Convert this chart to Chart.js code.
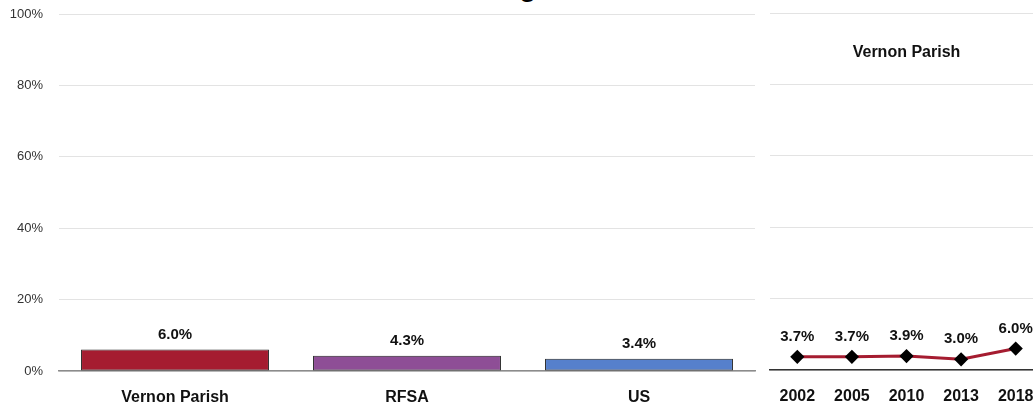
<!DOCTYPE html>
<html lang="en">
<head>
<meta charset="UTF-8">
<title>Vernon Parish</title>
<style>
  * { margin: 0; padding: 0; box-sizing: border-box; }
  body { width: 1033px; height: 404px; overflow: hidden; background: #fff; position: relative; font-family: "Liberation Sans", Arial, sans-serif; }
  .title { position: absolute; top: -27px; left: 401px; font: bold 28px/28px "Liberation Sans", Arial, sans-serif; color: #000; white-space: nowrap; }
  #left { position: absolute; left: 0; top: 0; }
  #right { position: absolute; left: 762px; top: 0; }
</style>
</head>
<body>
<div class="title">Percentage</div>
<canvas id="left" width="762" height="404"></canvas>
<canvas id="right" width="290" height="404"></canvas>
<script src="https://cdn.jsdelivr.net/npm/chart.js@4.4.0/dist/chart.umd.min.js"></script>
<script>
// ── Data ─────────────────────────────────────────────────────────────────────
const areas = ["Vernon Parish", "RFSA", "US"];
const areaValues = [6.0, 4.3, 3.4];
const areaColors = ["#a51c30", "#8e4e96", "#5680cc"];

const years = ["2002", "2005", "2010", "2013", "2018"];
const trendValues = [3.7, 3.7, 3.9, 3.0, 6.0];
const trendTitle = "Vernon Parish";

const yTicks = [0, 20, 40, 60, 80, 100];

const labelFont = "bold 15px 'Liberation Sans', Arial, sans-serif";
const axisFont = { family: "'Liberation Sans', Arial, sans-serif", size: 16, weight: "bold" };

// ── Value labels above bars / points ─────────────────────────────────────────
const valueLabels = (offset) => ({
  id: "valueLabels",
  afterDatasetsDraw(chart) {
    const { ctx } = chart;
    const ds = chart.data.datasets[0];
    ctx.save();
    ctx.font = labelFont;
    ctx.fillStyle = "#111";
    ctx.textAlign = "center";
    ctx.textBaseline = "middle";
    chart.getDatasetMeta(0).data.forEach((el, i) => {
      ctx.fillText(ds.data[i].toFixed(1) + "%", el.x, el.y - offset);
    });
    ctx.restore();
  },
});

// ── Left: bar chart ──────────────────────────────────────────────────────────
new Chart(document.getElementById("left"), {
  type: "bar",
  data: {
    labels: areas,
    datasets: [{
      data: areaValues,
      backgroundColor: areaColors,
      borderColor: "#222",
      borderWidth: 1,
      borderSkipped: false,
      categoryPercentage: 1,
      barPercentage: 0.81,
    }],
  },
  options: {
    responsive: false,
    animation: false,
    layout: { padding: { top: 14, right: 7, left: 0, bottom: 0 } },
    plugins: { legend: { display: false }, tooltip: { enabled: false } },
    scales: {
      y: {
        min: 0, max: 100,
        afterBuildTicks: (s) => { s.ticks = yTicks.map((v) => ({ value: v })); },
        afterFit: (s) => { s.width = 59; s.paddingTop = 0; s.paddingBottom = 0; },
        ticks: { callback: (v) => v + "%", color: "#333", padding: 16, font: { family: "'Liberation Sans', Arial, sans-serif", size: 13 } },
        grid: { color: "#e3e3e3", drawTicks: false },
        border: { display: false },
      },
      x: {
        afterFit: (s) => { s.height = 33; },
        ticks: { color: "#111", padding: 9, font: axisFont },
        grid: { display: false },
        border: { color: "#8c8c8c", width: 1.5 },
      },
    },
  },
  plugins: [valueLabels(15)],
});

// ── Right: trend line ────────────────────────────────────────────────────────
new Chart(document.getElementById("right"), {
  type: "line",
  data: {
    labels: years,
    datasets: [{
      data: trendValues,
      borderColor: "#a51c30",
      borderWidth: 3,
      tension: 0,
      pointStyle: "rectRot",
      pointRadius: 5,
      pointBackgroundColor: "#000",
      pointBorderColor: "#000",
    }],
  },
  options: {
    responsive: false,
    animation: false,
    layout: { padding: { top: 13, right: 9, left: 8, bottom: 0 } },
    plugins: { legend: { display: false }, tooltip: { enabled: false } },
    scales: {
      y: {
        min: 0, max: 100,
        afterBuildTicks: (s) => { s.ticks = yTicks.map((v) => ({ value: v })); },
        afterFit: (s) => { s.width = 0; },
        ticks: { display: false },
        grid: { color: "#e3e3e3", drawTicks: false },
        border: { display: false },
      },
      x: {
        offset: true,
        afterFit: (s) => { s.height = 34; },
        ticks: { color: "#111", padding: 9, font: axisFont },
        grid: { display: false },
        border: { color: "#333", width: 1.5 },
      },
    },
  },
  plugins: [
    valueLabels(20),
    {
      id: "innerTitle",
      afterDraw(chart) {
        const { ctx, chartArea } = chart;
        ctx.save();
        ctx.font = "bold 16px 'Liberation Sans', Arial, sans-serif";
        ctx.fillStyle = "#111";
        ctx.textAlign = "center";
        ctx.textBaseline = "middle";
        ctx.fillText(trendTitle, (chartArea.left + chartArea.right) / 2, 53);
        ctx.restore();
      },
    },
  ],
});
</script>
</body>
</html>
